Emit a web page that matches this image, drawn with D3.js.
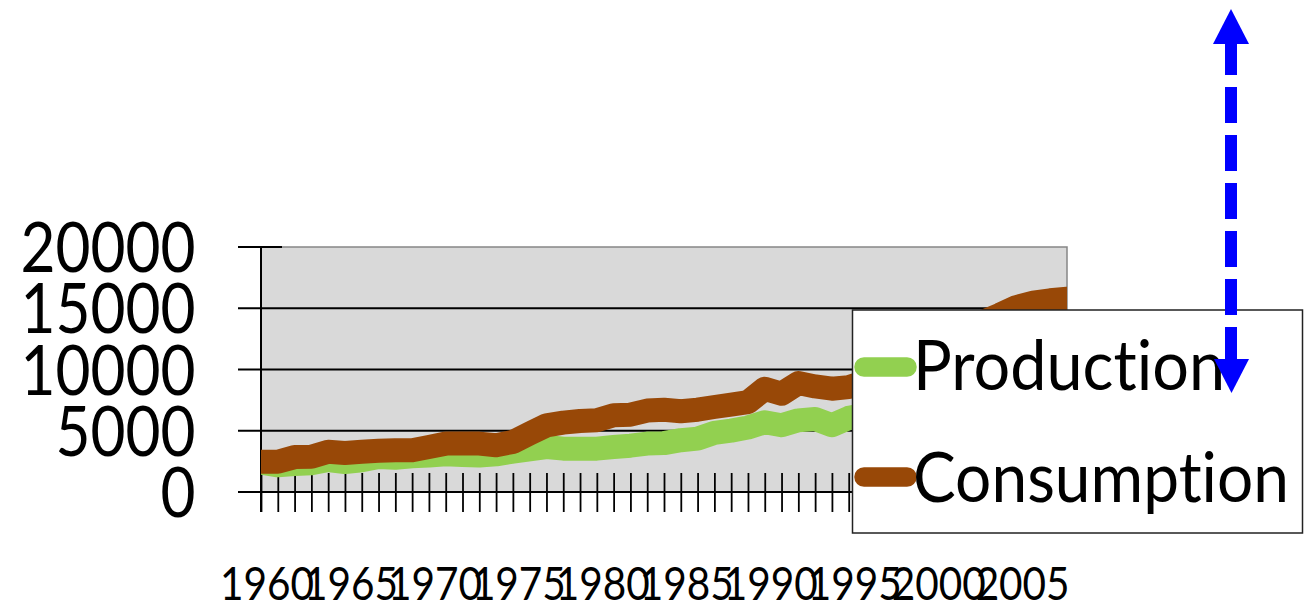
<!DOCTYPE html>
<html>
<head>
<meta charset="utf-8">
<script src="https://cdn.jsdelivr.net/npm/d3@7"></script>
<style>
  body { margin: 0; background: #fff; }
  svg { display: block; font-family: Lato, "Open Sans", sans-serif; font-variant-ligatures: none; }
</style>
</head>
<body>
<svg id="chart"></svg>
<script>
// years on the category axis, 1960..2008
const YEARS = [1960,1961,1962,1963,1964,1965,1966,1967,1968,1969,
               1970,1971,1972,1973,1974,1975,1976,1977,1978,1979,
               1980,1981,1982,1983,1984,1985,1986,1987,1988,1989,
               1990,1991,1992,1993,1994,1995,1996,1997,1998,1999,
               2000,2001,2002,2003,2004,2005,2006,2007,2008];

const PRODUCTION = [2390,2180,2280,2340,2610,2450,2590,2860,2800,2910,
                    2970,3080,3020,2970,3080,3290,3480,3670,3540,3540,
                    3540,3670,3780,3950,3990,4230,4360,4820,5010,5260,
                    5690,5450,5850,5960,5450,6050,6300,6500,6600,6800,
                    6900,7100,7300,7500,7700,7900,8100,8200,8300];

const CONSUMPTION = [2465,2465,2850,2870,3280,3190,3280,3360,3410,3410,
                     3680,3950,3950,3950,3820,4090,4770,5440,5660,5800,
                     5850,6260,6310,6650,6720,6590,6720,6940,7130,7340,
                     8430,8020,8890,8620,8430,8560,9000,9500,9900,10600,
                     11300,12000,12900,13900,14470,15100,15450,15650,15770];

const Y_TICKS = [0, 5000, 10000, 15000, 20000];
const X_LABELS = [1960,1965,1970,1975,1980,1985,1990,1995,2000,2005];
const SERIES_NAMES = ["Production", "Consumption"];

var width = 1304, height = 607;
var plot = {left: 261, right: 1067, top: 247, bottom: 492};
var colors = {Production: "#92d050", Consumption: "#984807"};

var svg = d3.select("#chart")
  .attr("width", width)
  .attr("height", height);

var x = d3.scaleLinear()
  .domain([YEARS[0], YEARS[YEARS.length - 1]])
  .range([plot.left, plot.right]);

var y = d3.scaleLinear()
  .domain([0, 20000])
  .range([plot.bottom, plot.top]);

/********* PLOT AREA ***********/
svg.append("rect")
  .attr("x", plot.left)
  .attr("y", plot.top)
  .attr("width", plot.right - plot.left)
  .attr("height", plot.bottom - plot.top)
  .attr("fill", "#d9d9d9")
  .attr("stroke", "#868686")
  .attr("stroke-width", 1.5);

svg.append("clipPath")
  .attr("id", "plotclip")
  .append("rect")
  .attr("x", plot.left)
  .attr("y", plot.top - 30)
  .attr("width", plot.right - plot.left)
  .attr("height", plot.bottom - plot.top + 30);

// gridlines (black), 0 line doubles as the x axis
svg.append("g")
  .selectAll("line")
  .data(Y_TICKS.filter(function(d) { return d < 20000; }))
  .enter()
  .append("line")
  .attr("x1", 238)
  .attr("x2", plot.right)
  .attr("y1", function(d) { return y(d); })
  .attr("y2", function(d) { return y(d); })
  .attr("stroke", "#000")
  .attr("stroke-width", 2);

// top tick crosses the axis
svg.append("line")
  .attr("x1", 238).attr("x2", 282)
  .attr("y1", y(20000)).attr("y2", y(20000))
  .attr("stroke", "#000")
  .attr("stroke-width", 2);

/********* X AXIS TICKS ***********/
var xTicks = svg.append("g")
  .attr("transform", "translate(0," + plot.bottom + ")")
  .call(d3.axisBottom(x).tickValues(YEARS).tickSize(20).tickFormat(""));
xTicks.select(".domain").remove();
xTicks.selectAll(".tick line")
  .attr("y1", -19)
  .attr("stroke", "#000")
  .attr("stroke-width", 1.8);

// y axis line
svg.append("line")
  .attr("x1", plot.left).attr("x2", plot.left)
  .attr("y1", plot.top).attr("y2", plot.bottom + 20)
  .attr("stroke", "#000")
  .attr("stroke-width", 2);

/********* LINES ***********/
var line = d3.line()
  .x(function(d, i) { return x(YEARS[i]); })
  .y(function(d) { return y(d); });

var lines = svg.append("g").attr("clip-path", "url(#plotclip)");
[PRODUCTION, CONSUMPTION].forEach(function(values, k) {
  lines.append("path")
    .datum(values)
    .attr("d", line)
    .attr("fill", "none")
    .attr("stroke", colors[SERIES_NAMES[k]])
    .attr("stroke-width", 24)
    .attr("stroke-linejoin", "round")
    .attr("stroke-linecap", "round");
});

/********* Y LABELS ***********/
svg.append("g")
  .selectAll("text")
  .data(Y_TICKS)
  .enter()
  .append("text")
  .attr("x", 195.5)
  .attr("y", function(d) { return y(d) + 25; })
  .attr("text-anchor", "end")
  .attr("font-size", 70)
  .attr("fill", "#000")
  .attr("textLength", function(d) { return String(d).length * 35; })
  .attr("lengthAdjust", "spacingAndGlyphs")
  .text(function(d) { return d; });

/********* X LABELS ***********/
svg.append("g")
  .selectAll("text")
  .data(X_LABELS)
  .enter()
  .append("text")
  .attr("x", function(d) { return x(d) + 6; })
  .attr("y", 600)
  .attr("text-anchor", "middle")
  .attr("font-size", 46)
  .attr("fill", "#000")
  .attr("textLength", 94)
  .attr("lengthAdjust", "spacingAndGlyphs")
  .text(function(d) { return d; });

/********* LEGEND ***********/
var legend = svg.append("g");
legend.append("rect")
  .attr("x", 852.5)
  .attr("y", 310)
  .attr("width", 450)
  .attr("height", 223)
  .attr("fill", "#fff")
  .attr("stroke", "#222")
  .attr("stroke-width", 1.5);

var legendRows = [
  {name: SERIES_NAMES[0], cy: 367, base: 390, len: 312},
  {name: SERIES_NAMES[1], cy: 477, base: 502, len: 376}
];
legendRows.forEach(function(r) {
  legend.append("line")
    .attr("x1", 864).attr("x2", 907)
    .attr("y1", r.cy).attr("y2", r.cy)
    .attr("stroke", colors[r.name])
    .attr("stroke-width", 19.5)
    .attr("stroke-linecap", "round");
  legend.append("text")
    .attr("x", 913)
    .attr("y", r.base)
    .attr("font-size", 70)
    .attr("fill", "#000")
    .attr("textLength", r.len)
    .attr("lengthAdjust", "spacingAndGlyphs")
    .text(r.name);
});

/********* BLUE DOUBLE ARROW ***********/
var arrow = svg.append("g").attr("fill", "#0000ff");
arrow.append("line")
  .attr("x1", 1231).attr("x2", 1231)
  .attr("y1", 39).attr("y2", 363)
  .attr("stroke", "#0000ff")
  .attr("stroke-width", 12)
  .attr("stroke-dasharray", "36,12");
arrow.append("path").attr("d", "M1231,9 L1249,44 L1213,44 Z");
arrow.append("path").attr("d", "M1214,359 L1249,359 L1231.5,393 Z");
</script>
</body>
</html>
